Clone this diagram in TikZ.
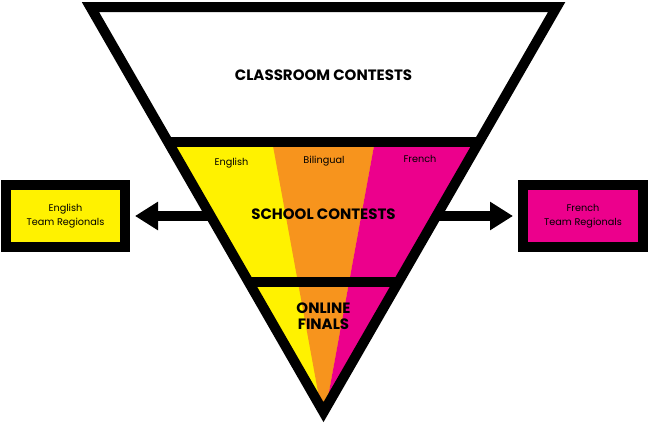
\documentclass[tikz,border=0pt]{standalone}
\usepackage{fontspec}
\setmainfont{Poppins}
\usepackage{xcolor}
\usepackage{tikz}
\usetikzlibrary{shapes, positioning, arrows.meta}
\definecolor{engyellow}{HTML}{FFF200}
\definecolor{biorange}{HTML}{F7941D}
\definecolor{frmagenta}{HTML}{EC008C}

\begin{document}
\begin{tikzpicture}[x=1pt, y=-1pt,
	tier/.style={font=\fontsize{15}{16}\selectfont\bfseries, align=center, inner sep=0pt},
	lang/.style={font=\fontsize{9.7}{11}\selectfont, anchor=base, inner sep=0pt},
	regbox/.style={draw, line width=10pt, minimum width=119pt, minimum height=62pt, inner sep=0pt, align=center, font=\fontsize{9.7}{14}\selectfont},
	push/.style={line width=10pt, -{Triangle[length=23pt, width=27pt]}, shorten >=5pt}
	]
	\useasboundingbox (0,0) rectangle (648,423);
	% corners of the funnel
	\coordinate (tl) at (90.4,7);
	\coordinate (tr) at (556.7,7);
	\coordinate (tip) at (323.5,412.1);
	\coordinate (v) at (323.5,422);
	
	% regional boxes and arrows
	\node[regbox, fill=engyellow] (engbox) at (65.5,216) {English\\Team Regionals};
	\node[regbox, fill=frmagenta, minimum width=120pt] (frbox) at (583,216) {French\\Team Regionals};
	\coordinate (lout) at (230,216);
	\coordinate (rout) at (417,216);
	\draw[push] (lout) -- (engbox);
	\draw[push] (rout) -- (frbox);
	
	% colour bands
	\begin{scope}
		\clip (tl) -- (tr) -- (tip) -- cycle;
		\fill[engyellow] (0,141.5) rectangle (648,423);
		\fill[biorange] (v) -- (264.6,100) -- (382.4,100) -- cycle;
		\fill[frmagenta] (v) -- (382.4,100) -- (648,100) -- (648,423) -- cycle;
		\fill[white] (0,0) rectangle (648,141.5);
	\end{scope}
	
	\draw[line width=10pt] (167.7,141.5) -- (479.3,141.5);
	\draw[line width=10pt] (248.3,281.5) -- (398.7,281.5);
	\draw[line width=10pt] (tl) -- (tr) -- (tip) -- cycle;
	
	\node[tier] (classroom) at (323.5,75.5) {CLASSROOM CONTESTS};
	\node[tier] (school) at (323.5,214) {SCHOOL CONTESTS};
	\node[tier] (online) at (323.5,316.4) {ONLINE\\FINALS};
	
	\node[lang] (english) at (231.5,165.3) {English};
	\node[lang] (bilingual) at (324,163) {Bilingual};
	\node[lang] (french) at (420,162.7) {French};
\end{tikzpicture}
\end{document}
